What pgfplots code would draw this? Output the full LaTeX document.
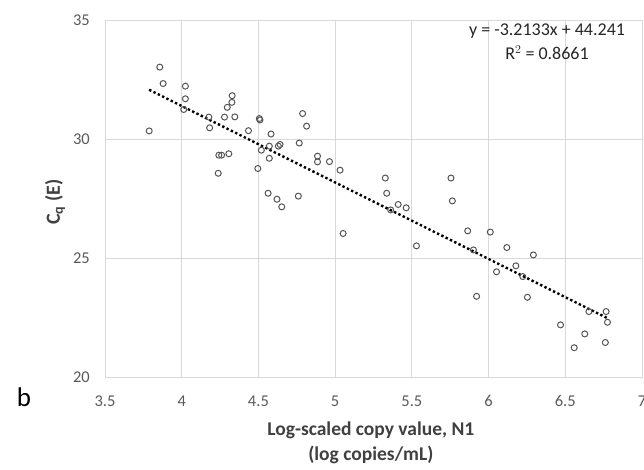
\documentclass[border=0pt]{standalone}
\usepackage{pgfplots}
\pgfplotsset{compat=1.18}
\usepackage{fontspec}
\setmainfont{Carlito}
\definecolor{tickgray}{HTML}{595959}
\definecolor{titlegray}{HTML}{404040}
\definecolor{gridgray}{HTML}{D9D9D9}
\definecolor{markgray}{HTML}{555555}
\begin{document}
\begin{tikzpicture}
\useasboundingbox (-105pt,-92pt) rectangle (539pt,377pt);
\begin{axis}[
  at={(0pt,0pt)}, anchor=south west,
  scale only axis, width=537pt, height=357pt,
  xmin=3.5, xmax=7, ymin=20, ymax=35,
  xtick={3.5,4,...,7}, ytick={20,25,30,35},
  grid=major, major grid style={gridgray, line width=0.9pt},
  axis line style={gridgray, line width=0.9pt},
  tick style={draw=none},
  /pgf/number format/assume math mode=true,
  ticklabel style={font=\fontsize{16.5}{18}\selectfont, text=tickgray, inner sep=0pt},
  xticklabel style={anchor=center, yshift=-24pt},
  yticklabel style={anchor=east, xshift=-15pt},
  xlabel={Log-scaled copy value, N1\\(log copies/mL)},
  every axis x label/.style={at={(axis description cs:0.495,-0.1835)}, anchor=center, font=\bfseries\fontsize{19.5}{25}\selectfont, text=titlegray, align=center},
  ylabel={C$_{\mathbf q}$ (E)},
  every axis y label/.style={at={(axis description cs:-0.0931,0.49)}, rotate=90, anchor=center, font=\bfseries\fontsize{20}{22}\selectfont, text=titlegray},
  clip=false,
]
\addplot[only marks, mark=o, mark size=3.0pt, mark options={draw=markgray, line width=1pt}] coordinates {
(3.857,33.02) (3.879,32.33) (4.024,32.22) (4.024,31.69) (4.013,31.24)
(3.788,30.34) (4.329,31.82) (4.327,31.54) (4.297,31.33) (4.279,30.92)
(4.346,30.93) (4.177,30.92) (4.182,30.47) (4.506,30.86) (4.51,30.80)
(4.435,30.35) (4.582,30.21) (4.519,29.53) (4.571,29.70) (4.630,29.70)
(4.641,29.77) (4.571,29.19) (4.766,29.83) (4.788,31.07) (4.814,30.54)
(4.242,29.32) (4.260,29.32) (4.307,29.38) (4.496,28.76) (4.238,28.56)
(4.563,27.72) (4.621,27.47) (4.652,27.15) (4.760,27.60) (4.885,29.28)
(4.885,29.04) (4.963,29.05) (5.032,28.69) (5.052,26.03) (5.327,28.36)
(5.336,27.72) (5.362,27.02) (5.411,27.25) (5.463,27.11) (5.530,25.51)
(5.755,28.36) (5.764,27.40) (5.864,26.14) (5.901,25.34) (6.011,26.09)
(5.922,23.39) (6.119,25.44) (6.052,24.42) (6.178,24.67) (6.292,25.13)
(6.223,24.22) (6.253,23.35) (6.469,22.19) (6.627,21.81) (6.558,21.23)
(6.654,22.75) (6.766,22.75) (6.775,22.30) (6.761,21.45)
};
\addplot[black, line width=2.4pt, dash pattern=on 2.4pt off 2.4pt] coordinates {(3.788,32.069) (6.775,22.471)};
\node[font=\fontsize{18}{20}\selectfont, text=black!85, anchor=center] at (axis cs:6.381,34.52) {y = -3.2133x + 44.241};
\node[font=\fontsize{18}{20}\selectfont, text=black!85, anchor=center] at (axis cs:6.381,33.62) {R$^2$ = 0.8661};
\node[font=\fontsize{27}{29}\selectfont, anchor=center] at (axis cs:2.972,19.16) {b};
\end{axis}
\end{tikzpicture}
\end{document}
